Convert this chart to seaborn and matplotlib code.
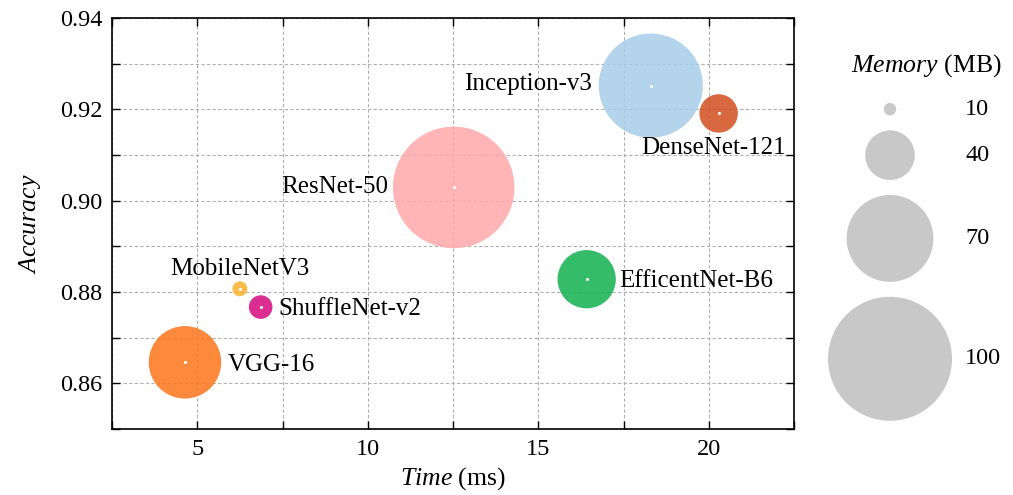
import numpy as np
import pandas as pd
import matplotlib
matplotlib.use("Agg")
import matplotlib.pyplot as plt
import seaborn as sns

# data
models = ["VGG-16", "MobileNetV3", "ShuffleNet-v2", "ResNet-50",
          "EfficentNet-B6", "Inception-v3", "DenseNet-121"]
time_ms = [4.64, 6.25, 6.86, 12.52, 16.42, 18.30, 20.29]
accuracy = [0.8646, 0.8807, 0.8767, 0.9029, 0.8828, 0.9252, 0.9191]
memory_mb = [58.5, 12, 19, 98, 47, 84, 31]
legend_mb = [10, 40, 70, 100]

colors = ["#fd761a", "#fab12b", "#d6097f", "#ffa8a8",
          "#11b14d", "#a7cde8", "#d24e1d"]

# where each label goes relative to its bubble: (side, gap pt, nudge pt)
label_place = {
    "VGG-16": ("right", 5, -2),
    "MobileNetV3": ("top", 1, 0),
    "ShuffleNet-v2": ("right", 4, -1.5),
    "ResNet-50": ("left", 3.5, 0.5),
    "EfficentNet-B6": ("right", 2.5, -1.5),
    "Inception-v3": ("left", 4.5, 1.5),
    "DenseNet-121": ("bottom", 3, -4),
}

df = pd.DataFrame({"model": models, "time": time_ms, "acc": accuracy, "mem": memory_mb})
df["area"] = df["mem"] ** 2

PX_PER_MB = 1.24          # bubble diameter in pixels per MB
PT_PER_MB = PX_PER_MB * 0.72
S_MAX = (PT_PER_MB * 100) ** 2

sns.set_style("ticks")
plt.rcParams["font.family"] = ["Liberation Serif", "DejaVu Serif"]
plt.rcParams["mathtext.fontset"] = "custom"
plt.rcParams["mathtext.rm"] = "Liberation Serif"
plt.rcParams["mathtext.it"] = "Liberation Serif:italic"
plt.rcParams["text.color"] = "black"
plt.rcParams["axes.labelcolor"] = "black"
plt.rcParams["xtick.color"] = "black"
plt.rcParams["ytick.color"] = "black"

fig = plt.figure(figsize=(10.13, 4.95), dpi=100)
ax = fig.add_axes([112 / 1013, 1 - 429 / 495, (794 - 112) / 1013, (429 - 18) / 495])

ax.set_axisbelow(True)
sns.scatterplot(data=df, x="time", y="acc", hue="model", hue_order=models,
                palette=colors, size="area", sizes=(0, S_MAX), size_norm=(0, 100 ** 2),
                alpha=0.85, linewidth=0, legend=False, ax=ax, zorder=3)
ax.scatter(df["time"], df["acc"], s=5, color="white", linewidths=0, zorder=4)

for _, row in df.iterrows():
    side, gap, nudge = label_place[row["model"]]
    r = PT_PER_MB * row["mem"] / 2
    if side == "right":
        xy, ha, va = (r + gap, nudge), "left", "center"
    elif side == "left":
        xy, ha, va = (-(r + gap), nudge), "right", "center"
    elif side == "top":
        xy, ha, va = (nudge, r + gap), "center", "bottom"
    else:
        xy, ha, va = (nudge, -(r + gap)), "center", "top"
    ax.annotate(row["model"], (row["time"], row["acc"]), xytext=xy,
                textcoords="offset points", ha=ha, va=va, fontsize=18,
                color="black", zorder=5)

ax.set_xlim(2.5, 22.5)
ax.set_ylim(0.85, 0.94)
ax.set_xticks([5, 10, 15, 20])
ax.set_xticks(np.arange(2.5, 22.6, 2.5), minor=True)
ax.set_yticks([0.86, 0.88, 0.90, 0.92, 0.94])
ax.set_yticks(np.arange(0.85, 0.9401, 0.01), minor=True)
ax.set_yticklabels(["0.86", "0.88", "0.90", "0.92", "0.94"])
ax.tick_params(which="both", direction="in", top=True, right=True,
               length=5.5, width=1, labelsize=17.5, pad=7, color="black",
               labelcolor="black")
ax.grid(which="both", linestyle=(0, (3, 2)), linewidth=0.8, color="#b0b0b0")
for sp in ax.spines.values():
    sp.set_linewidth(1.2)
    sp.set_color("black")

ax.set_xlabel(r"$\it{Time}$ (ms)", fontsize=18.5, labelpad=4)
ax.set_ylabel(r"$\it{Accuracy}$", fontsize=18.5, labelpad=12)

# size legend on the right, in pixel units
lax = fig.add_axes([800 / 1013, 0, 213 / 1013, 1])
lax.set_xlim(800, 1013)
lax.set_ylim(495, 0)
lax.axis("off")
diam = [PX_PER_MB * m for m in legend_mb]
centers = []
top = 103
for d in diam:
    centers.append(top + d / 2)
    top += d + 15
lax.scatter([890] * len(legend_mb), centers, s=[(PT_PER_MB * m) ** 2 for m in legend_mb],
            color="#c8c8c8", linewidths=0)
for m, c in zip(legend_mb, centers):
    lax.text(965, c, str(m), fontsize=17.5, ha="left", va="center")
lax.text(926, 66, r"$\it{Memory}$ (MB)", fontsize=18.5, ha="center", va="center")

plt.savefig("out.png", dpi=100)
